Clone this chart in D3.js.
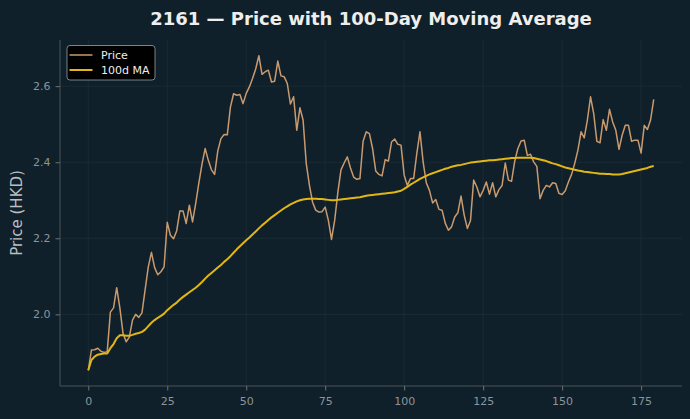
<!DOCTYPE html>
<html><head><meta charset="utf-8">
<script src="https://cdn.jsdelivr.net/npm/d3@7"></script>
<style>html,body{margin:0;padding:0;background:#10202a;}svg{display:block;}</style>
</head><body>
<script>
const price = [1.853,1.906,1.907,1.911,1.903,1.900,1.902,2.006,2.017,2.070,
2.017,1.950,1.928,1.940,1.985,2.000,1.992,2.004,2.065,2.125,
2.163,2.123,2.104,2.112,2.125,2.242,2.208,2.199,2.220,2.272,
2.272,2.239,2.287,2.243,2.291,2.345,2.395,2.436,2.405,2.380,
2.368,2.430,2.462,2.473,2.472,2.545,2.580,2.576,2.578,2.554,
2.581,2.598,2.620,2.645,2.680,2.631,2.638,2.642,2.611,2.613,
2.666,2.627,2.625,2.607,2.553,2.572,2.484,2.543,2.511,2.397,
2.340,2.295,2.274,2.269,2.270,2.282,2.247,2.197,2.247,2.320,
2.380,2.398,2.414,2.385,2.361,2.355,2.357,2.455,2.480,2.475,
2.436,2.377,2.368,2.364,2.407,2.403,2.453,2.461,2.447,2.445,
2.366,2.339,2.357,2.357,2.423,2.480,2.401,2.346,2.326,2.293,
2.302,2.276,2.274,2.240,2.221,2.230,2.256,2.267,2.311,2.261,
2.226,2.247,2.353,2.335,2.309,2.326,2.348,2.316,2.346,2.309,
2.328,2.339,2.398,2.353,2.350,2.403,2.436,2.456,2.458,2.418,
2.421,2.401,2.389,2.304,2.326,2.339,2.335,2.346,2.344,2.318,
2.315,2.325,2.348,2.368,2.397,2.432,2.480,2.464,2.511,2.572,
2.528,2.455,2.451,2.512,2.484,2.539,2.506,2.484,2.434,2.471,
2.497,2.497,2.455,2.458,2.458,2.424,2.497,2.486,2.511,2.565];
const ma100 = [1.853,1.880,1.889,1.894,1.896,1.897,1.897,1.911,1.922,1.937,
1.945,1.945,1.944,1.944,1.946,1.949,1.951,1.954,1.960,1.969,
1.978,1.985,1.991,1.996,2.002,2.011,2.018,2.025,2.031,2.039,
2.046,2.052,2.058,2.064,2.070,2.077,2.085,2.094,2.102,2.109,
2.116,2.123,2.130,2.138,2.145,2.153,2.162,2.171,2.179,2.187,
2.195,2.202,2.210,2.218,2.226,2.234,2.241,2.248,2.255,2.261,
2.267,2.273,2.279,2.284,2.289,2.293,2.297,2.300,2.302,2.303,
2.304,2.304,2.304,2.303,2.303,2.302,2.301,2.300,2.300,2.301,
2.302,2.303,2.304,2.305,2.306,2.307,2.308,2.310,2.312,2.313,
2.314,2.315,2.316,2.317,2.318,2.319,2.320,2.321,2.323,2.325,
2.330,2.335,2.341,2.346,2.351,2.356,2.360,2.364,2.368,2.371,
2.374,2.377,2.380,2.383,2.385,2.388,2.390,2.392,2.393,2.395,
2.397,2.399,2.400,2.401,2.402,2.403,2.404,2.405,2.405,2.406,
2.407,2.408,2.409,2.410,2.411,2.411,2.412,2.412,2.412,2.412,
2.412,2.411,2.409,2.407,2.405,2.403,2.400,2.397,2.395,2.392,
2.389,2.386,2.384,2.382,2.380,2.378,2.377,2.375,2.374,2.373,
2.372,2.371,2.370,2.370,2.369,2.369,2.368,2.368,2.368,2.369,
2.371,2.373,2.375,2.377,2.379,2.381,2.383,2.385,2.388,2.390];
const xTicks = [0,25,50,75,100,125,150,175];
const yTicks = [2.0,2.2,2.4,2.6];
const seriesNames = ["Price","100d MA"];
const title = "2161 \u2014 Price with 100-Day Moving Average";
const yLabel = "Price (HKD)";

const W = 690, H = 419;
const m = {l:60, r:8, t:40, b:33};
const svg = d3.select("body").append("svg").attr("width",W).attr("height",H);
svg.append("rect").attr("width",W).attr("height",H).attr("fill","#10202a");

const n = price.length;
const xPad = (n-1)*0.05;
const x = d3.scaleLinear().domain([-xPad, n-1+xPad]).range([m.l, W-m.r]);
const allV = price.concat(ma100);
const lo = d3.min(allV), hi = d3.max(allV), yPad = (hi-lo)*0.05;
const y = d3.scaleLinear().domain([lo-yPad, hi+yPad]).range([H-m.b, m.t]);

const g = svg.append("g");
g.selectAll(".gx").data(xTicks).join("line")
  .attr("x1",d=>x(d)).attr("x2",d=>x(d)).attr("y1",m.t).attr("y2",H-m.b)
  .attr("stroke","#1d2d36").attr("stroke-width",0.8);
g.selectAll(".gy").data(yTicks).join("line")
  .attr("y1",d=>y(d)).attr("y2",d=>y(d)).attr("x1",m.l).attr("x2",W-m.r)
  .attr("stroke","#1d2d36").attr("stroke-width",0.8);

const xAxis = d3.axisBottom(x).tickValues(xTicks).tickSize(4.5).tickPadding(7).tickFormat(d3.format("d"));
const yAxis = d3.axisLeft(y).tickValues(yTicks).tickSize(4.5).tickPadding(5).tickFormat(d3.format(".1f"));
const gx = svg.append("g").attr("transform",`translate(0,${H-m.b})`).call(xAxis);
const gy = svg.append("g").attr("transform",`translate(${m.l},0)`).call(yAxis);
[gx,gy].forEach(a=>{
  a.select(".domain").attr("stroke","#4a5358");
  a.selectAll(".tick line").attr("stroke","#6a7377");
  a.selectAll(".tick text").attr("fill","#8c9499").attr("font-family","DejaVu Sans").attr("font-size",11);
});
gx.select(".domain").attr("d",`M${m.l},0H${W-m.r}`);
gy.select(".domain").attr("d",`M0,${m.t}V${H-m.b}`);

const line = d3.line().x((d,i)=>x(i)).y(d=>y(d));
svg.append("path").datum(price).attr("d",line).attr("fill","none")
  .attr("stroke","#c99a6e").attr("stroke-width",1.5).attr("stroke-linejoin","round");
svg.append("path").datum(ma100).attr("d",line).attr("fill","none")
  .attr("stroke","#e2b714").attr("stroke-width",2).attr("stroke-linejoin","round");

svg.append("text").attr("x",(m.l+W-m.r)/2).attr("y",24.5).attr("text-anchor","middle")
  .attr("fill","#eeeeee").attr("font-family","DejaVu Sans").attr("font-weight","bold")
  .attr("font-size",18).text(title);
svg.append("text").attr("transform",`translate(22,${(m.t+H-m.b)/2}) rotate(-90)`)
  .attr("text-anchor","middle").attr("fill","#b8bec2").attr("font-family","DejaVu Sans")
  .attr("font-size",15).text(yLabel);

const lg = svg.append("g").attr("transform","translate(67,45.5)");
lg.append("rect").attr("width",88).attr("height",34.5).attr("rx",3)
  .attr("fill","#000000").attr("stroke","#9aa0a4").attr("stroke-width",0.8);
const colors = ["#c99a6e","#e2b714"], widths=[1.5,2];
seriesNames.forEach((s,i)=>{
  const yy = 9.5 + i*15;
  lg.append("line").attr("x1",2.5).attr("x2",25.5).attr("y1",yy).attr("y2",yy)
    .attr("stroke",colors[i]).attr("stroke-width",widths[i]);
  lg.append("text").attr("x",34).attr("y",yy+4).attr("fill","#eeeeee")
    .attr("font-family","DejaVu Sans").attr("font-size",11).text(s);
});
</script>
</body></html>
